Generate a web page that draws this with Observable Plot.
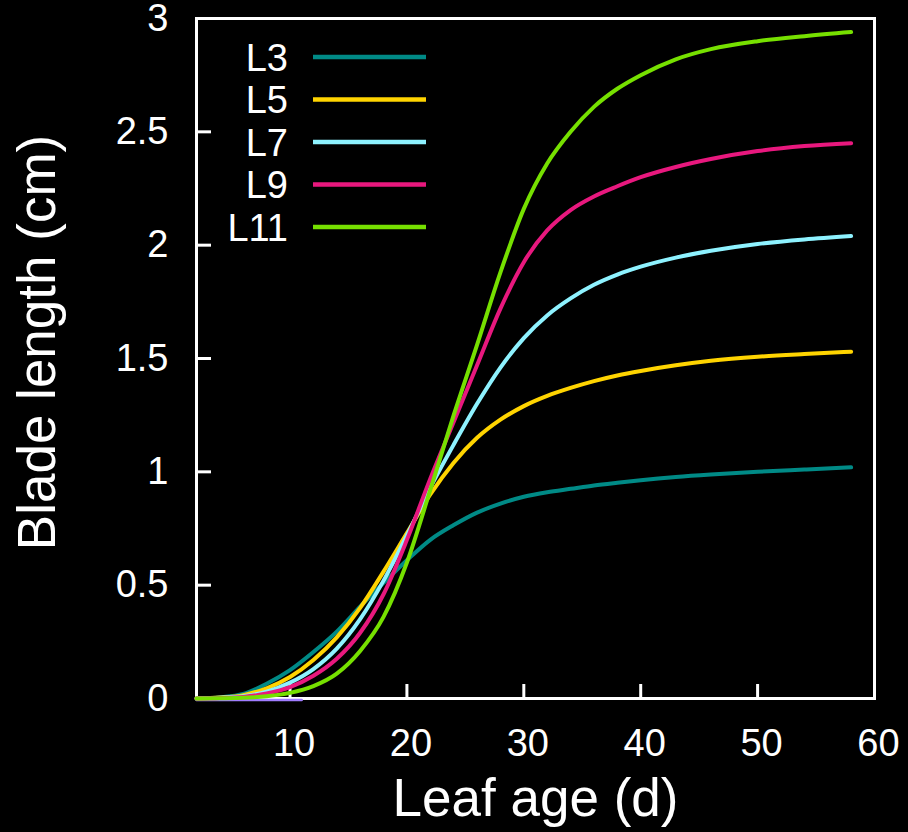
<!DOCTYPE html>
<html><head><meta charset="utf-8">
<style>
html,body{margin:0;padding:0;background:#000;}
</style>
<script src="https://cdn.jsdelivr.net/npm/d3@7"></script>
<script src="https://cdn.jsdelivr.net/npm/@observablehq/plot@0.6"></script>
</head><body><div id="chart"></div>
<script>
// Leaf age (d) sample points
const ages = [2,4,6,8,10,12,14,16,18,20,22,24,26,28,30,32,34,36,38,40,43,46,50,54,58];
const seriesNames = ["L3","L5","L7","L9","L11"];
const L3  = [0,0.005,0.02,0.065,0.125,0.205,0.295,0.405,0.51,0.61,0.70,0.765,0.82,0.86,0.89,0.91,0.925,0.94,0.952,0.963,0.977,0.988,1.0,1.01,1.02];
const L5  = [0,0.004,0.015,0.045,0.095,0.17,0.27,0.40,0.56,0.73,0.90,1.04,1.15,1.23,1.29,1.335,1.37,1.40,1.425,1.445,1.47,1.49,1.508,1.52,1.53];
const L7  = [0,0.003,0.01,0.03,0.07,0.13,0.22,0.35,0.52,0.72,0.93,1.12,1.30,1.46,1.59,1.69,1.765,1.825,1.87,1.905,1.945,1.975,2.005,2.025,2.04];
const L9  = [0,0.002,0.007,0.022,0.05,0.10,0.175,0.29,0.46,0.70,0.97,1.22,1.47,1.72,1.925,2.065,2.155,2.215,2.26,2.30,2.345,2.38,2.415,2.437,2.45];
const L11 = [0,0.001,0.003,0.01,0.025,0.055,0.11,0.21,0.36,0.60,0.92,1.25,1.56,1.88,2.16,2.36,2.50,2.61,2.69,2.75,2.82,2.865,2.90,2.922,2.94];
const colors = ["#008a86","#ffd400","#8ef2ff","#e8187e","#76e000"];
const xTicks = [10,20,30,40,50,60];
const yTicks = [0,0.5,1,1.5,2,2.5,3];
// faint baseline trace along the bottom
const baseAges = [2,11];
const baseVals = [0,0];

const values = {L3, L5, L7, L9, L11};
const rows = seriesNames.flatMap(s => ages.map((a,i)=>({series:s, age:a, len:values[s][i]})));
const baseRows = baseAges.map((a,i)=>({age:a, len:baseVals[i]}));

const font = "'Liberation Sans', Arial, Helvetica, sans-serif";
const chart = Plot.plot({
  width: 908, height: 832,
  marginLeft: 196, marginRight: 34, marginTop: 18, marginBottom: 134,
  style: {background:"#000", color:"#fff", fontFamily: font, overflow:"visible"},
  x: {domain:[2,60]},
  y: {domain:[0,3]},
  color: {domain: seriesNames, range: colors},
  marks: [
    Plot.axisX(xTicks.slice(0,5), {tickSize:-14, strokeWidth:3, tickFormat:()=> "", label:null}),
    Plot.axisY(yTicks.slice(1,6), {tickSize:-15, strokeWidth:3, tickFormat:()=> "", label:null}),
    Plot.axisX(xTicks, {tickSize:0, tickPadding:31, fontSize:38, dx:4, label:null}),
    Plot.axisY(yTicks, {tickSize:0, tickPadding:28, fontSize:38, label:null, tickFormat:d=>String(d)}),
    Plot.frame({stroke:"#fff", strokeWidth:3}),
    Plot.line(baseRows, {x:"age", y:"len", stroke:"#a07cff", strokeWidth:2.5, dy:1.5}),
    Plot.line(rows, {x:"age", y:"len", z:"series", stroke:"series", strokeWidth:4, curve:"monotone-x"}),
    Plot.text(["Leaf age (d)"], {frameAnchor:"bottom", textAnchor:"middle", dy:117, fontSize:53, fill:"#fff"}),
    Plot.text(["Blade length (cm)"], {frameAnchor:"left", textAnchor:"middle", rotate:-90, dx:-158, dy:-16, fontSize:53, fill:"#fff"})
  ]
});

const svg = d3.select(chart);
const lg = svg.append("g").attr("font-family", font);
seriesNames.forEach((s,i)=>{
  const y = 57 + 42.5*i;
  lg.append("text").attr("x",288).attr("y",y).attr("dy","0.36em")
    .attr("text-anchor","end").attr("font-size",38).attr("fill","#fff").text(s);
  lg.append("line").attr("x1",313).attr("x2",426).attr("y1",y).attr("y2",y)
    .attr("stroke",colors[i]).attr("stroke-width",4.5);
});
document.getElementById("chart").appendChild(chart);
</script>
</body></html>
